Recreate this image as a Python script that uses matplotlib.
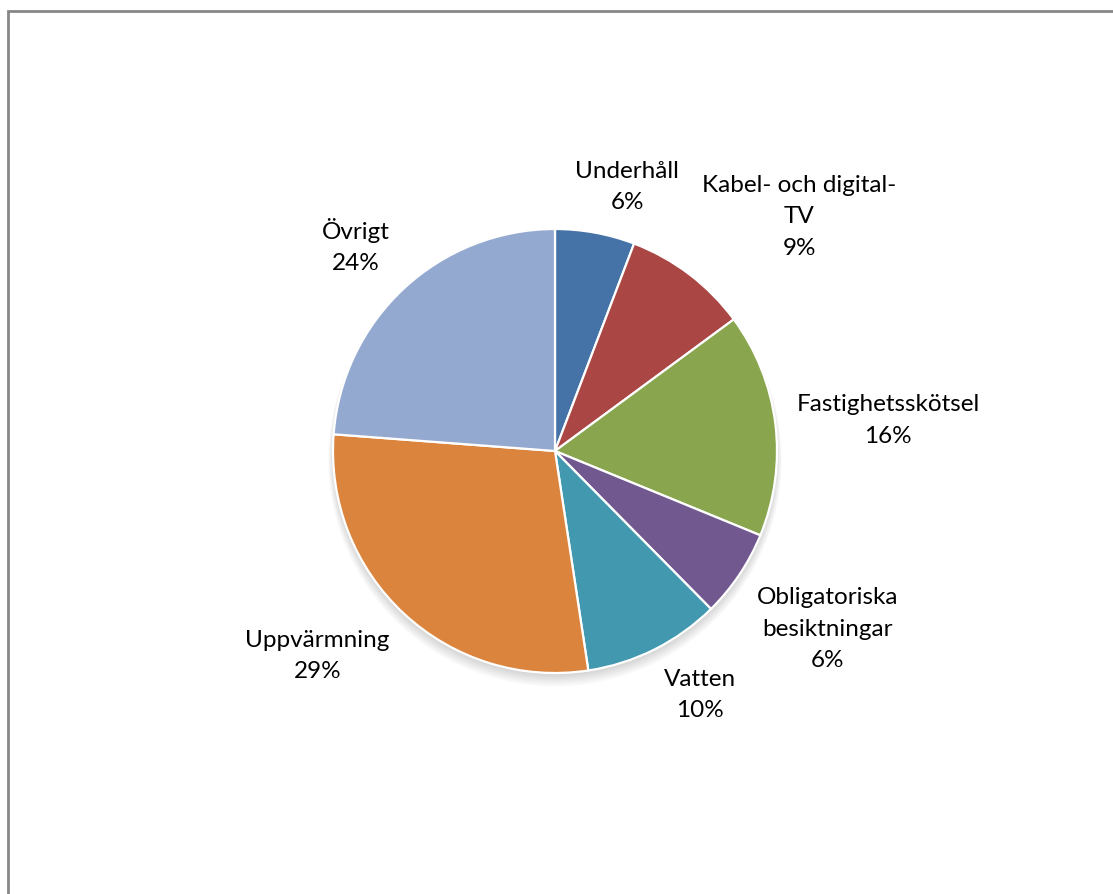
import numpy as np
import matplotlib
matplotlib.use("Agg")
import matplotlib.pyplot as plt
from matplotlib.patches import Rectangle, Circle

# Data (share of total, %), clockwise from the top
categories = ["Underhåll", "Kabel- och digital-\nTV", "Fastighetsskötsel",
              "Obligatoriska\nbesiktningar", "Vatten", "Uppvärmning", "Övrigt"]
shares = [5.8, 9.1, 16.3, 6.4, 10.0, 28.6, 23.8]
colors = ["#4572A7", "#AA4643", "#89A54E", "#71588F", "#4198AF", "#DB843D", "#93A9CF"]

W, H, DPI = 1113, 895, 100
radius_px = 222          # pie radius in pixels
center_px = (555, 452)   # pie centre, pixels from top-left

plt.rcParams["font.family"] = ["Lato", "DejaVu Sans"]

fig = plt.figure(figsize=(W / DPI, H / DPI), dpi=DPI)
ax = fig.add_axes([0, 0, 1, 1])

# soft shadow under the pie
for i in range(8):
    ax.add_patch(Circle((0.0, -0.012 - 0.004 * i), 1.0 + 0.003 * i,
                        color="black", alpha=0.018, lw=0, zorder=0))

wedges, _ = ax.pie(shares, colors=colors, startangle=90, counterclock=False,
                   wedgeprops=dict(edgecolor="white", linewidth=1.6))

ax.set_xlim(-center_px[0] / radius_px, (W - center_px[0]) / radius_px)
ax.set_ylim(-(H - center_px[1]) / radius_px, center_px[1] / radius_px)
ax.set_aspect("auto")
ax.axis("off")

# Excel-style outside labels: the box corner/edge nearest the pie sits on the mid-angle ray
renderer = fig.canvas.get_renderer()
for w, name, v in zip(wedges, categories, shares):
    ang = np.deg2rad((w.theta1 + w.theta2) / 2)
    dx, dy = np.cos(ang), np.sin(ang)
    r = 1.095
    t = ax.text(r * dx, r * dy, f"{name}\n{v:.0f}%", ha="center", va="center",
                multialignment="center", fontsize=17.5, color="black", linespacing=1.6)
    bb = t.get_window_extent(renderer)
    fx = np.clip(3 * dx, -1, 1)
    fy = np.clip(3 * (dy - np.sign(dy) * 0.1), -1, 1)
    # shift the centre so that the anchor point lands at r
    sx = fx * bb.width / 2 / radius_px
    sy = fy * bb.height / 2 / radius_px
    t.set_position((r * dx + sx, r * dy + sy))

# chart area border (only top and left visible in the crop)
fig.add_artist(Rectangle((7.5 / W, -0.1), 1.2, 1 - 11.5 / H + 0.1,
                         transform=fig.transFigure, fill=False,
                         edgecolor="#878787", linewidth=2))

fig.savefig("out.png", dpi=DPI)
